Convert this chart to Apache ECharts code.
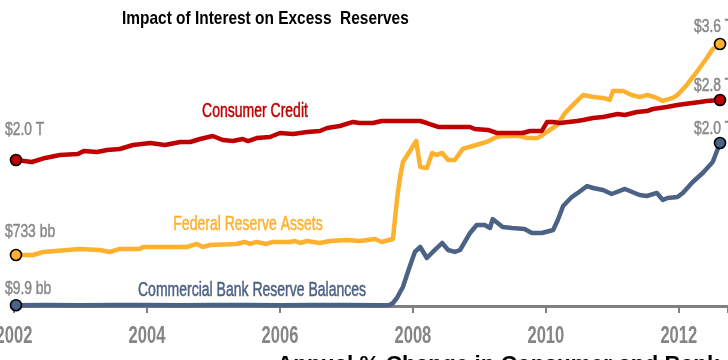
<!DOCTYPE html>
<html><head><meta charset="utf-8">
<script src="https://cdn.jsdelivr.net/npm/echarts/dist/echarts.min.js"></script>
<style>html,body{margin:0;padding:0;background:#fff}#c{width:728px;height:360px}</style>
</head><body><div id="c"></div>
<script>
// ---- data (billions of dollars) ----
const xTickYears = [2002, 2004, 2006, 2008, 2010, 2012];

const ccYears = [2002.03,2002.27,2002.47,2002.69,2002.96,2003.05,2003.25,2003.40,2003.59,2003.79,2004.05,2004.27,2004.50,2004.65,2004.80,2004.99,2005.14,2005.29,2005.44,2005.52,2005.65,2005.85,2006.00,2006.20,2006.41,2006.60,2006.71,2006.90,2007.10,2007.20,2007.40,2007.53,2008.11,2008.21,2008.38,2008.86,2008.93,2009.13,2009.26,2009.65,2009.76,2009.94,2010.02,2010.11,2010.21,2010.47,2010.56,2010.71,2010.86,2011.08,2011.19,2011.37,2011.52,2011.61,2011.82,2011.98,2012.09,2012.32,2012.42,2012.62];
const ccValues = [2000,1973,2027,2067,2080,2120,2107,2133,2147,2200,2227,2200,2240,2240,2280,2320,2267,2253,2280,2253,2293,2307,2360,2347,2373,2387,2427,2453,2507,2493,2493,2520,2520,2493,2440,2440,2413,2400,2360,2360,2387,2387,2507,2507,2493,2520,2533,2560,2573,2613,2600,2640,2653,2680,2707,2733,2747,2773,2787,2800];

const fedYears = [2002.03,2002.29,2002.44,2002.99,2003.29,2003.44,2003.59,2003.89,2003.94,2004.60,2004.75,2004.84,2004.95,2005.35,2005.47,2005.55,2005.65,2005.80,2005.89,2006.15,2006.23,2006.30,2006.41,2006.60,2006.75,2007.01,2007.20,2007.43,2007.53,2007.70,2007.76,2007.80,2007.85,2008.05,2008.11,2008.21,2008.29,2008.36,2008.44,2008.53,2008.63,2008.75,2008.90,2009.11,2009.26,2009.35,2009.61,2009.71,2009.88,2010.02,2010.17,2010.29,2010.44,2010.56,2010.71,2010.86,2010.96,2011.01,2011.16,2011.29,2011.41,2011.53,2011.67,2011.76,2011.91,2011.98,2012.12,2012.27,2012.42,2012.51,2012.62];
const fedValues = [733,733,774,815,801,774,815,815,842,842,883,842,869,883,910,883,910,883,910,910,923,896,923,896,923,937,923,950,910,950,1480,1752,1997,2282,1929,1915,2119,2092,2119,2024,2024,2174,2214,2269,2337,2350,2350,2323,2323,2405,2500,2663,2799,2907,2880,2867,2840,2962,2962,2907,2880,2907,2867,2826,2867,2907,3043,3220,3410,3532,3600];

const resYears = [2002.03,2002.5,2003.0,2003.5,2004.0,2004.5,2005.0,2005.5,2006.0,2006.5,2007.0,2007.5,2007.65,2007.70,2007.76,2007.85,2007.95,2008.03,2008.11,2008.21,2008.30,2008.44,2008.53,2008.63,2008.71,2008.86,2008.96,2009.08,2009.16,2009.20,2009.35,2009.49,2009.68,2009.79,2009.94,2010.11,2010.18,2010.26,2010.39,2010.48,2010.62,2010.71,2010.86,2010.99,2011.19,2011.41,2011.52,2011.67,2011.76,2011.83,2011.98,2012.06,2012.21,2012.36,2012.51,2012.62];
const resValues = [9.9,11,10,12,11,10,12,11,10,12,11,10,12,37,98,233,479,663,724,589,663,773,687,663,687,896,994,994,957,1067,969,957,945,896,896,933,1055,1227,1337,1387,1472,1448,1423,1374,1436,1362,1350,1387,1301,1325,1337,1387,1521,1632,1767,2000];

const seriesNames = ['Consumer Credit', 'Federal Reserve Assets', 'Commercial Bank Reserve Balances'];
const startLabels = ['$2.0 T', '$733 bb', '$9.9 bb'];
const endLabels = ['$2.8 T', '$3.6 T', '$2.0 T'];
const titleText = 'Impact of Interest on Excess  Reserves';
const nextTitleText = 'Annual % Change in Consumer and Bank';

// ---- styling ----
const colors = ['#c00000', '#fdb12f', '#4b6185'];
const sans = '"Liberation Sans",Arial,sans-serif';
const grey = '#888888';

const allYears = [ccYears, fedYears, resYears];
const allValues = [ccValues, fedValues, resValues];
const yAxisFor = [0, 1, 2];

function buildData(years, vals, idx) {
  return years.map((y, i) => {
    const item = { value: [y, vals[i]] };
    if (i === 0 || i === years.length - 1) {
      item.symbol = 'circle';
      item.symbolSize = 11;
      item.itemStyle = { color: colors[idx], borderColor: '#000', borderWidth: 1.6 };
    }
    return item;
  });
}

const chart = echarts.init(document.getElementById('c'), null, { renderer: 'canvas' });
const order = [2, 1, 0]; // draw reserves first, consumer credit on top
chart.setOption({
  animation: false,
  backgroundColor: '#fff',
  grid: { left: 14, right: 0, top: 6, bottom: 54, containLabel: false },
  xAxis: {
    type: 'value', min: 2002, max: 2012.74, interval: 2,
    axisLine: { show: true, lineStyle: { color: '#808080', width: 3 } },
    axisTick: { show: true, length: 7, lineStyle: { color: '#808080', width: 2 } },
    splitLine: { show: false },
    axisLabel: { show: false }
  },
  yAxis: [
    { type: 'value', show: false, min: 53.3, max: 4053.3, splitLine: { show: false } },
    { type: 'value', show: false, min: 40, max: 4116, splitLine: { show: false } },
    { type: 'value', show: false, min: 0, max: 3681, splitLine: { show: false } }
  ],
  series: order.map((k, n) => ({
    name: seriesNames[k], type: 'line', yAxisIndex: yAxisFor[k], z: 2 + n,
    symbol: 'none', showAllSymbol: true,
    lineStyle: { color: colors[k], width: 4.5, join: 'round' }, itemStyle: { color: colors[k] },
    data: buildData(allYears[k], allValues[k], k)
  }))
});

// ---- text laid out from the library's own scales ----
const g = [];
const axisY = chart.convertToPixel({ yAxisIndex: 2 }, 0);
xTickYears.forEach(yr => {
  const px = chart.convertToPixel({ xAxisIndex: 0 }, yr);
  g.push({ type: 'text', x: px, y: axisY + 31, scaleX: 0.72, z: 10,
    style: { text: String(yr), fill: '#858585', font: 'bold 23px ' + sans, textAlign: 'center', textVerticalAlign: 'middle' } });
});
const startDy = [-30, -23, -16.5];
const endDy = [-13.5, -17, -14];
order.forEach((k, n) => {
  const ys = allYears[k], vs = allValues[k], L = ys.length;
  const p0 = chart.convertToPixel({ seriesIndex: n }, [ys[0], vs[0]]);
  const p1 = chart.convertToPixel({ seriesIndex: n }, [ys[L - 1], vs[L - 1]]);
  const lab = { fill: grey, stroke: grey, lineWidth: 0.5, font: '18px ' + sans, textAlign: 'left', textVerticalAlign: 'middle' };
  g.push({ type: 'text', x: p0[0] - 11, y: p0[1] + startDy[k], scaleX: 0.77, z: 10,
    style: Object.assign({ text: startLabels[k] }, lab) });
  g.push({ type: 'text', x: p1[0] - 26, y: p1[1] + endDy[k], scaleX: 0.77, z: 10,
    style: Object.assign({ text: endLabels[k] }, lab) });
});
const nameCenters = [[255, 111], [248, 224.5], [252, 290]];
seriesNames.forEach((nm, k) => {
  g.push({ type: 'text', x: nameCenters[k][0], y: nameCenters[k][1], scaleX: 0.7, z: 10,
    style: { text: nm, fill: colors[k], stroke: colors[k], lineWidth: 0.5, font: '20px ' + sans, textAlign: 'center', textVerticalAlign: 'middle' } });
});
g.push({ type: 'text', x: 122, y: 18.5, scaleX: 0.835, z: 10,
  style: { text: titleText, fill: '#000', font: 'bold 18.5px ' + sans, textAlign: 'left', textVerticalAlign: 'middle' } });
g.push({ type: 'text', x: 277, y: 353, z: 10,
  style: { text: nextTitleText, fill: '#000', font: 'bold 22.5px ' + sans, textAlign: 'left', textVerticalAlign: 'top' } });
chart.setOption({ graphic: g });
</script>
</body></html>
